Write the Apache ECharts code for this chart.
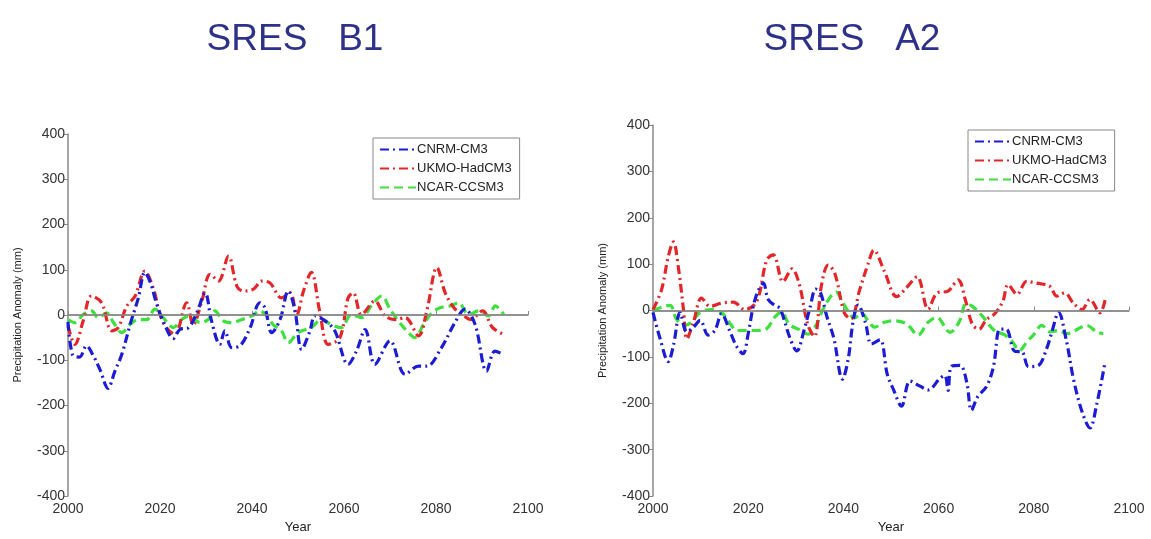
<!DOCTYPE html>
<html>
<head>
<meta charset="utf-8">
<script src="https://cdn.jsdelivr.net/npm/echarts@6/dist/echarts.min.js"></script>
<style>
  html, body { margin: 0; padding: 0; background: #fff; }
  #chart { width: 1151px; height: 539px; }
</style>
</head>
<body>
<div id="chart"></div>
<script>
var modelNames = ['CNRM-CM3', 'UKMO-HadCM3', 'NCAR-CCSM3'];
var panelTitles = ['SRES   B1', 'SRES   A2'];
var yTicks = [-400, 400, 100];
var xTicks = [2000, 2100, 20];

// SRES B1 (left panel), [year, anomaly mm]
var b1Cnrm = [[2000,-15],[2001,-88],[2002.5,-93],[2004,-68],[2005.5,-90],[2007,-122],[2008.7,-162],[2010.2,-124],[2011.7,-87],[2013.5,-21],[2015.3,38],[2016.7,94],[2017.8,75],[2019.3,24],[2021,-21],[2022.9,-52],[2024.3,-32],[2026.2,-28],[2028,5],[2029.8,49],[2031.2,-13],[2033,-65],[2034.1,-35],[2035.6,-72],[2037.4,-68],[2039.6,-28],[2041.7,27],[2042.8,16],[2044.3,-39],[2046.1,-10],[2047.9,53],[2049.3,12],[2050.8,-76],[2052.6,-35],[2053.7,-2],[2055.9,-13],[2058,-35],[2060.9,-109],[2062.7,-80],[2064.6,-32],[2066.7,-109],[2070,-57],[2073.3,-131],[2076.2,-113],[2078,-113],[2081.2,-72],[2084.1,-17],[2086.3,13],[2088.5,-21],[2091,-124],[2092.8,-80],[2094.6,-87]];
var b1Ukmo = [[2000,-24],[2001.5,-65],[2003.3,-13],[2005.1,42],[2007.3,27],[2009.5,-35],[2010.9,-28],[2012.8,20],[2014.6,42],[2016.7,97],[2018.6,57],[2020,1],[2021.4,-28],[2023.2,-43],[2025.8,27],[2027.2,-21],[2029.1,31],[2030.9,90],[2032.7,75],[2034.9,130],[2036.7,64],[2038.1,53],[2040.3,57],[2042.1,75],[2043.9,71],[2046.4,38],[2048.3,49],[2049.7,0],[2051.2,53],[2052.9,94],[2054.7,9],[2056.6,-65],[2059.1,-50],[2060.9,38],[2062,49],[2063.8,1],[2066.7,31],[2068.9,-2],[2071.1,-10],[2073.3,-6],[2076.2,-46],[2078,9],[2080.2,105],[2082,49],[2083.9,16],[2085.7,1],[2087.5,-10],[2090.1,9],[2092.3,-28],[2094.8,-43]];
var b1Ncar = [[2000,-10],[2001.5,-17],[2003.3,1],[2005.1,9],[2006.6,-6],[2008.4,5],[2009.9,-17],[2011.7,-39],[2013.5,-21],[2015.3,-10],[2017.1,-10],[2018.9,13],[2020.7,-6],[2022.9,-28],[2024.7,-10],[2026.5,-2],[2028.7,-17],[2030.5,-10],[2031.9,9],[2033.8,-13],[2035.6,-17],[2037.8,-10],[2040,-2],[2041.7,9],[2043.2,-2],[2044.6,-21],[2046.4,-35],[2047.9,-61],[2049.7,-42],[2050.8,-35],[2052.9,-28],[2055.1,-10],[2057.2,-21],[2059.4,-28],[2061.6,1],[2063.8,-6],[2065.9,20],[2068.2,42],[2070,13],[2071.8,-13],[2074,-39],[2075.4,-50],[2077.3,-21],[2079.1,5],[2080.9,16],[2083.1,20],[2084.9,27],[2087.1,1],[2089.3,9],[2091.4,-2],[2092.9,20],[2094.7,1]];

// SRES A2 (right panel)
var a2Cnrm = [[2000,-4],[2001.5,-61],[2003.2,-110],[2004.3,-75],[2005.7,-4],[2007.1,-46],[2008.5,-36],[2009.9,-21],[2011.6,-53],[2013,-43],[2014.4,-7],[2016.2,-46],[2017.6,-78],[2018.9,-93],[2020,-50],[2021.1,11],[2022.2,45],[2023.2,59],[2024.2,24],[2025.9,9],[2026.7,5],[2028.8,-60],[2030.2,-87],[2031.8,-40],[2033,7],[2034.2,46],[2035.2,38],[2036.5,-12],[2038,-60],[2039.8,-148],[2041,-105],[2042.1,-19],[2043.1,12],[2044.6,-25],[2045.9,-72],[2047.7,-63],[2049.2,-137],[2050.5,-170],[2052.2,-206],[2054,-152],[2056.1,-163],[2057.8,-171],[2060.3,-146],[2061.3,-140],[2062,-172],[2062.7,-120],[2064.5,-118],[2065.9,-154],[2066.9,-215],[2068.2,-186],[2070.1,-163],[2071.5,-122],[2072.9,-40],[2074.2,-40],[2076,-88],[2077.5,-89],[2078.9,-121],[2081,-118],[2082.7,-82],[2083.8,-46],[2085.2,-4],[2086.9,-68],[2088.3,-146],[2090.1,-217],[2091.8,-253],[2093.2,-203],[2095,-110]];
var a2Ukmo = [[2000,2],[2001.8,45],[2003.2,116],[2004.3,148],[2005.3,95],[2006.4,2],[2007.1,-61],[2008.5,-25],[2010.2,27],[2012,9],[2014.4,16],[2016.9,18],[2019.3,2],[2021.8,20],[2023.9,109],[2025.3,120],[2027.3,62],[2029.2,90],[2030.7,58],[2032.5,-30],[2033.9,-56],[2035.4,55],[2036.8,98],[2038.2,80],[2040.2,-5],[2041.6,-18],[2043.4,44],[2045.2,101],[2046.4,130],[2048.6,85],[2051.2,30],[2053.3,50],[2055.5,73],[2057.8,3],[2059.7,38],[2062,42],[2064.1,66],[2065.7,20],[2067.1,-30],[2068.5,-40],[2070,-20],[2071.8,-7],[2073.5,20],[2074.6,56],[2076.5,35],[2078.5,63],[2080.6,59],[2083.4,52],[2084.8,31],[2086.5,38],[2088.3,16],[2090.1,2],[2091.8,24],[2093.9,-5],[2095,24]];
var a2Ncar = [[2000,0],[2002,8],[2003.6,11],[2004.9,-18],[2006.7,-32],[2008.1,-25],[2009.9,-4],[2012.3,2],[2014.4,-4],[2016.2,-28],[2017.6,-43],[2019.7,-43],[2021.8,-43],[2023.9,-39],[2025.6,-14],[2027,-3],[2028.6,-30],[2030.5,-40],[2032.6,-51],[2034.2,-33],[2035.6,0],[2037.3,30],[2038.5,40],[2039.5,25],[2041,-2],[2042.3,-16],[2043.8,-6],[2045.2,-22],[2046.6,-36],[2048.4,-26],[2050.5,-22],[2053.3,-29],[2055.7,-53],[2057.7,-26],[2059.6,-15],[2062.4,-47],[2064.3,-25],[2065.8,15],[2067.1,9],[2069.2,-12],[2071.8,-44],[2073.8,-52],[2075.4,-66],[2077,-86],[2078.5,-68],[2079.9,-53],[2081.7,-32],[2083.4,-46],[2085.2,-43],[2086.9,-50],[2088.7,-43],[2091.1,-32],[2093.2,-46],[2094.6,-50]];

var colors = ['#1c1cd4', '#e3262a', '#3ee03e'];
var dashes = [[9, 4, 2, 4], [9, 4, 2, 4], [9, 5]];

var chart = echarts.init(document.getElementById('chart'), null, {renderer: 'canvas'});

function makeX(idx) {
    return {
        type: 'value', gridIndex: idx,
        min: xTicks[0], max: xTicks[1], interval: xTicks[2],
        name: 'Year', nameLocation: 'middle', nameGap: 19,
        nameTextStyle: {fontFamily: 'Liberation Sans', fontSize: 13, color: '#222'},
        axisLine: {lineStyle: {color: '#8a8a8a', width: 1.5}},
        axisTick: {inside: true, length: 4, lineStyle: {color: '#8a8a8a'}},
        axisLabel: {fontFamily: 'Liberation Sans', fontSize: 14, color: '#333', margin: 6,
                    formatter: function (v) { return String(v); }},
        splitLine: {show: false}
    };
}
function makeY(idx) {
    return {
        type: 'value', gridIndex: idx,
        min: yTicks[0], max: yTicks[1], interval: yTicks[2],
        name: 'Precipitation Anomaly (mm)', nameLocation: 'middle', nameGap: 45,
        nameTextStyle: {fontFamily: 'Liberation Sans', fontSize: 11, color: '#222'},
        axisLine: {show: true, lineStyle: {color: '#8a8a8a', width: 1.5}},
        axisTick: {show: true, length: 4, lineStyle: {color: '#8a8a8a'}},
        axisLabel: {fontFamily: 'Liberation Sans', fontSize: 14, color: '#333', margin: 3},
        splitLine: {show: false}
    };
}
function makeSeries(name, data, k, idx) {
    var s = {
        name: name, type: 'line', data: data,
        xAxisIndex: idx, yAxisIndex: idx,
        smooth: 0.35, symbol: 'none',
        lineStyle: {color: colors[k], width: 3.2, type: dashes[k]},
        itemStyle: {color: colors[k]},
        z: 3 - k
    };
    if (k == 2) {
        // zero reference line
        s.markLine = {
            silent: true, symbol: 'none', label: {show: false},
            lineStyle: {color: '#8a8a8a', width: 1.5, type: 'solid'},
            data: [{yAxis: 0}]
        };
    }
    return s;
}
function makeLegend(left, top) {
    return {
        data: modelNames, orient: 'vertical', left: left, top: top,
        itemWidth: 36, itemHeight: 12, itemGap: 6,
        padding: [5, 8, 5, 6],
        itemStyle: {opacity: 0},
        borderColor: '#888', borderWidth: 1, backgroundColor: '#fff',
        selectedMode: false,
        textStyle: {fontFamily: 'Liberation Sans', fontSize: 13, color: '#222', padding: [0, 0, 0, -4]}
    };
}

option = {
    animation: false,
    backgroundColor: '#fff',
    title: [
        {text: panelTitles[0], left: 290, top: 16, textAlign: 'center',
         textStyle: {fontFamily: 'Liberation Sans', fontSize: 37, fontWeight: 'normal', color: '#2e3188'}},
        {text: panelTitles[1], left: 847, top: 16, textAlign: 'center',
         textStyle: {fontFamily: 'Liberation Sans', fontSize: 37, fontWeight: 'normal', color: '#2e3188'}}
    ],
    legend: [makeLegend(373, 138), makeLegend(968, 130)],
    grid: [
        {left: 68, right: 623, top: 134, bottom: 43},
        {left: 653, right: 22, top: 125, bottom: 40}
    ],
    xAxis: [makeX(0), makeX(1)],
    yAxis: [makeY(0), makeY(1)],
    series: [
        makeSeries(modelNames[0], b1Cnrm, 0, 0),
        makeSeries(modelNames[1], b1Ukmo, 1, 0),
        makeSeries(modelNames[2], b1Ncar, 2, 0),
        makeSeries(modelNames[0], a2Cnrm, 0, 1),
        makeSeries(modelNames[1], a2Ukmo, 1, 1),
        makeSeries(modelNames[2], a2Ncar, 2, 1)
    ]
};
chart.setOption(option);
</script>
</body>
</html>
